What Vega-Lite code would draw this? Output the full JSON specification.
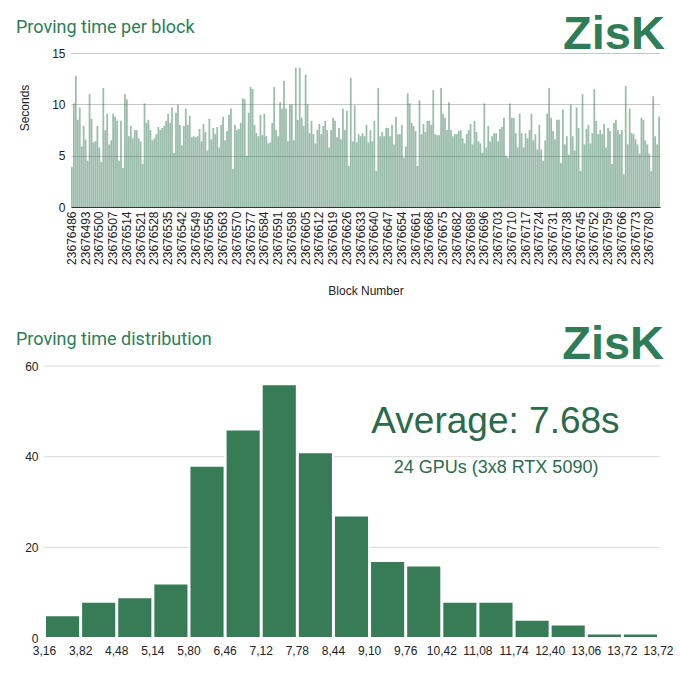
{
  "$schema": "https://vega.github.io/schema/vega-lite/v6.json",
  "padding": {"left": 16, "top": 8, "right": 5, "bottom": 5},
  "background": "#ffffff",
  "datasets": {
    "blocks": [
      {"block": 23676486, "seconds": 3.9}, {"block": 23676487, "seconds": 10.1}, {"block": 23676488, "seconds": 12.8}, {"block": 23676489, "seconds": 8.5},
      {"block": 23676490, "seconds": 9.7}, {"block": 23676491, "seconds": 5.9}, {"block": 23676492, "seconds": 7.9}, {"block": 23676493, "seconds": 6.6},
      {"block": 23676494, "seconds": 4.5}, {"block": 23676495, "seconds": 11.0}, {"block": 23676496, "seconds": 8.6}, {"block": 23676497, "seconds": 6.3},
      {"block": 23676498, "seconds": 6.4}, {"block": 23676499, "seconds": 7.9}, {"block": 23676500, "seconds": 5.8}, {"block": 23676501, "seconds": 4.4},
      {"block": 23676502, "seconds": 11.6}, {"block": 23676503, "seconds": 7.5}, {"block": 23676504, "seconds": 9.1}, {"block": 23676505, "seconds": 6.1},
      {"block": 23676506, "seconds": 6.5}, {"block": 23676507, "seconds": 9.1}, {"block": 23676508, "seconds": 8.8}, {"block": 23676509, "seconds": 8.4},
      {"block": 23676510, "seconds": 4.5}, {"block": 23676511, "seconds": 8.4}, {"block": 23676512, "seconds": 3.8}, {"block": 23676513, "seconds": 11.0},
      {"block": 23676514, "seconds": 10.5}, {"block": 23676515, "seconds": 6.9}, {"block": 23676516, "seconds": 7.9}, {"block": 23676517, "seconds": 6.7},
      {"block": 23676518, "seconds": 7.5}, {"block": 23676519, "seconds": 7.5}, {"block": 23676520, "seconds": 6.7}, {"block": 23676521, "seconds": 6.4},
      {"block": 23676522, "seconds": 4.2}, {"block": 23676523, "seconds": 10.1}, {"block": 23676524, "seconds": 8.2}, {"block": 23676525, "seconds": 8.5},
      {"block": 23676526, "seconds": 7.5}, {"block": 23676527, "seconds": 6.5}, {"block": 23676528, "seconds": 6.7}, {"block": 23676529, "seconds": 7.1},
      {"block": 23676530, "seconds": 7.8}, {"block": 23676531, "seconds": 7.5}, {"block": 23676532, "seconds": 7.7}, {"block": 23676533, "seconds": 7.9},
      {"block": 23676534, "seconds": 8.4}, {"block": 23676535, "seconds": 9.1}, {"block": 23676536, "seconds": 8.2}, {"block": 23676537, "seconds": 9.7},
      {"block": 23676538, "seconds": 5.3}, {"block": 23676539, "seconds": 9.2}, {"block": 23676540, "seconds": 10.0}, {"block": 23676541, "seconds": 8.0},
      {"block": 23676542, "seconds": 6.0}, {"block": 23676543, "seconds": 7.9}, {"block": 23676544, "seconds": 9.6}, {"block": 23676545, "seconds": 8.0},
      {"block": 23676546, "seconds": 8.9}, {"block": 23676547, "seconds": 6.8}, {"block": 23676548, "seconds": 6.9}, {"block": 23676549, "seconds": 6.8},
      {"block": 23676550, "seconds": 6.9}, {"block": 23676551, "seconds": 7.6}, {"block": 23676552, "seconds": 6.4}, {"block": 23676553, "seconds": 8.1},
      {"block": 23676554, "seconds": 7.3}, {"block": 23676555, "seconds": 5.5}, {"block": 23676556, "seconds": 8.6}, {"block": 23676557, "seconds": 6.6},
      {"block": 23676558, "seconds": 7.7}, {"block": 23676559, "seconds": 7.1}, {"block": 23676560, "seconds": 7.8}, {"block": 23676561, "seconds": 5.8},
      {"block": 23676562, "seconds": 8.0}, {"block": 23676563, "seconds": 8.8}, {"block": 23676564, "seconds": 6.5}, {"block": 23676565, "seconds": 7.4},
      {"block": 23676566, "seconds": 9.0}, {"block": 23676567, "seconds": 9.6}, {"block": 23676568, "seconds": 3.7}, {"block": 23676569, "seconds": 8.0},
      {"block": 23676570, "seconds": 7.5}, {"block": 23676571, "seconds": 7.6}, {"block": 23676572, "seconds": 8.2}, {"block": 23676573, "seconds": 10.6},
      {"block": 23676574, "seconds": 10.5}, {"block": 23676575, "seconds": 5.0}, {"block": 23676576, "seconds": 9.2}, {"block": 23676577, "seconds": 11.7},
      {"block": 23676578, "seconds": 11.5}, {"block": 23676579, "seconds": 8.0}, {"block": 23676580, "seconds": 7.2}, {"block": 23676581, "seconds": 6.9},
      {"block": 23676582, "seconds": 9.0}, {"block": 23676583, "seconds": 7.0}, {"block": 23676584, "seconds": 9.1}, {"block": 23676585, "seconds": 6.9},
      {"block": 23676586, "seconds": 6.2}, {"block": 23676587, "seconds": 6.3}, {"block": 23676588, "seconds": 8.2}, {"block": 23676589, "seconds": 11.7},
      {"block": 23676590, "seconds": 7.5}, {"block": 23676591, "seconds": 6.9}, {"block": 23676592, "seconds": 10.2}, {"block": 23676593, "seconds": 9.6},
      {"block": 23676594, "seconds": 12.3}, {"block": 23676595, "seconds": 9.6}, {"block": 23676596, "seconds": 6.4}, {"block": 23676597, "seconds": 10.0},
      {"block": 23676598, "seconds": 10.0}, {"block": 23676599, "seconds": 6.5}, {"block": 23676600, "seconds": 13.6}, {"block": 23676601, "seconds": 8.5},
      {"block": 23676602, "seconds": 13.6}, {"block": 23676603, "seconds": 8.7}, {"block": 23676604, "seconds": 7.9}, {"block": 23676605, "seconds": 12.9},
      {"block": 23676606, "seconds": 10.0}, {"block": 23676607, "seconds": 7.2}, {"block": 23676608, "seconds": 8.4}, {"block": 23676609, "seconds": 7.1},
      {"block": 23676610, "seconds": 6.2}, {"block": 23676611, "seconds": 7.5}, {"block": 23676612, "seconds": 8.1}, {"block": 23676613, "seconds": 7.1},
      {"block": 23676614, "seconds": 7.9}, {"block": 23676615, "seconds": 8.4}, {"block": 23676616, "seconds": 7.5}, {"block": 23676617, "seconds": 5.8},
      {"block": 23676618, "seconds": 7.5}, {"block": 23676619, "seconds": 8.7}, {"block": 23676620, "seconds": 8.4}, {"block": 23676621, "seconds": 6.8},
      {"block": 23676622, "seconds": 7.7}, {"block": 23676623, "seconds": 6.6}, {"block": 23676624, "seconds": 9.6}, {"block": 23676625, "seconds": 7.5},
      {"block": 23676626, "seconds": 9.4}, {"block": 23676627, "seconds": 4.0}, {"block": 23676628, "seconds": 12.6}, {"block": 23676629, "seconds": 6.4},
      {"block": 23676630, "seconds": 9.9}, {"block": 23676631, "seconds": 6.3}, {"block": 23676632, "seconds": 7.1}, {"block": 23676633, "seconds": 6.9},
      {"block": 23676634, "seconds": 7.2}, {"block": 23676635, "seconds": 6.9}, {"block": 23676636, "seconds": 8.0}, {"block": 23676637, "seconds": 6.3},
      {"block": 23676638, "seconds": 7.5}, {"block": 23676639, "seconds": 6.4}, {"block": 23676640, "seconds": 8.4}, {"block": 23676641, "seconds": 3.5},
      {"block": 23676642, "seconds": 11.6}, {"block": 23676643, "seconds": 6.9}, {"block": 23676644, "seconds": 7.3}, {"block": 23676645, "seconds": 6.9},
      {"block": 23676646, "seconds": 7.7}, {"block": 23676647, "seconds": 7.7}, {"block": 23676648, "seconds": 6.9}, {"block": 23676649, "seconds": 8.0},
      {"block": 23676650, "seconds": 6.1}, {"block": 23676651, "seconds": 8.8}, {"block": 23676652, "seconds": 7.1}, {"block": 23676653, "seconds": 7.1},
      {"block": 23676654, "seconds": 8.0}, {"block": 23676655, "seconds": 4.8}, {"block": 23676656, "seconds": 5.9}, {"block": 23676657, "seconds": 11.1},
      {"block": 23676658, "seconds": 10.1}, {"block": 23676659, "seconds": 8.2}, {"block": 23676660, "seconds": 7.9}, {"block": 23676661, "seconds": 7.4},
      {"block": 23676662, "seconds": 4.0}, {"block": 23676663, "seconds": 10.4}, {"block": 23676664, "seconds": 7.1}, {"block": 23676665, "seconds": 8.1},
      {"block": 23676666, "seconds": 7.3}, {"block": 23676667, "seconds": 8.4}, {"block": 23676668, "seconds": 8.4}, {"block": 23676669, "seconds": 8.0},
      {"block": 23676670, "seconds": 11.4}, {"block": 23676671, "seconds": 7.1}, {"block": 23676672, "seconds": 7.0}, {"block": 23676673, "seconds": 7.0},
      {"block": 23676674, "seconds": 11.6}, {"block": 23676675, "seconds": 9.1}, {"block": 23676676, "seconds": 8.7}, {"block": 23676677, "seconds": 7.5},
      {"block": 23676678, "seconds": 10.2}, {"block": 23676679, "seconds": 7.5}, {"block": 23676680, "seconds": 6.9}, {"block": 23676681, "seconds": 7.1},
      {"block": 23676682, "seconds": 7.1}, {"block": 23676683, "seconds": 7.4}, {"block": 23676684, "seconds": 7.5}, {"block": 23676685, "seconds": 6.7},
      {"block": 23676686, "seconds": 6.2}, {"block": 23676687, "seconds": 7.1}, {"block": 23676688, "seconds": 7.5}, {"block": 23676689, "seconds": 8.1},
      {"block": 23676690, "seconds": 6.1}, {"block": 23676691, "seconds": 8.4}, {"block": 23676692, "seconds": 7.3}, {"block": 23676693, "seconds": 6.4},
      {"block": 23676694, "seconds": 6.2}, {"block": 23676695, "seconds": 5.3}, {"block": 23676696, "seconds": 10.1}, {"block": 23676697, "seconds": 5.8},
      {"block": 23676698, "seconds": 7.9}, {"block": 23676699, "seconds": 6.4}, {"block": 23676700, "seconds": 6.9}, {"block": 23676701, "seconds": 7.2},
      {"block": 23676702, "seconds": 7.2}, {"block": 23676703, "seconds": 6.4}, {"block": 23676704, "seconds": 7.6}, {"block": 23676705, "seconds": 7.8},
      {"block": 23676706, "seconds": 8.7}, {"block": 23676707, "seconds": 5.0}, {"block": 23676708, "seconds": 4.8}, {"block": 23676709, "seconds": 10.1},
      {"block": 23676710, "seconds": 8.7}, {"block": 23676711, "seconds": 8.7}, {"block": 23676712, "seconds": 7.2}, {"block": 23676713, "seconds": 5.8},
      {"block": 23676714, "seconds": 9.1}, {"block": 23676715, "seconds": 7.2}, {"block": 23676716, "seconds": 5.8}, {"block": 23676717, "seconds": 7.2},
      {"block": 23676718, "seconds": 6.7}, {"block": 23676719, "seconds": 7.5}, {"block": 23676720, "seconds": 9.1}, {"block": 23676721, "seconds": 6.5},
      {"block": 23676722, "seconds": 7.1}, {"block": 23676723, "seconds": 5.6}, {"block": 23676724, "seconds": 8.0}, {"block": 23676725, "seconds": 5.6},
      {"block": 23676726, "seconds": 4.5}, {"block": 23676727, "seconds": 6.5}, {"block": 23676728, "seconds": 9.1}, {"block": 23676729, "seconds": 11.6},
      {"block": 23676730, "seconds": 8.7}, {"block": 23676731, "seconds": 7.4}, {"block": 23676732, "seconds": 6.6}, {"block": 23676733, "seconds": 8.5},
      {"block": 23676734, "seconds": 8.5}, {"block": 23676735, "seconds": 4.3}, {"block": 23676736, "seconds": 9.5}, {"block": 23676737, "seconds": 6.1},
      {"block": 23676738, "seconds": 6.9}, {"block": 23676739, "seconds": 5.1}, {"block": 23676740, "seconds": 10.0}, {"block": 23676741, "seconds": 6.9},
      {"block": 23676742, "seconds": 5.5}, {"block": 23676743, "seconds": 9.7}, {"block": 23676744, "seconds": 7.7}, {"block": 23676745, "seconds": 3.5},
      {"block": 23676746, "seconds": 11.0}, {"block": 23676747, "seconds": 6.1}, {"block": 23676748, "seconds": 7.6}, {"block": 23676749, "seconds": 8.0},
      {"block": 23676750, "seconds": 6.2}, {"block": 23676751, "seconds": 7.2}, {"block": 23676752, "seconds": 11.5}, {"block": 23676753, "seconds": 8.4},
      {"block": 23676754, "seconds": 7.1}, {"block": 23676755, "seconds": 7.5}, {"block": 23676756, "seconds": 7.1}, {"block": 23676757, "seconds": 8.1},
      {"block": 23676758, "seconds": 5.8}, {"block": 23676759, "seconds": 7.7}, {"block": 23676760, "seconds": 7.4}, {"block": 23676761, "seconds": 4.2},
      {"block": 23676762, "seconds": 8.2}, {"block": 23676763, "seconds": 8.5}, {"block": 23676764, "seconds": 7.5}, {"block": 23676765, "seconds": 7.1},
      {"block": 23676766, "seconds": 7.5}, {"block": 23676767, "seconds": 3.2}, {"block": 23676768, "seconds": 11.8}, {"block": 23676769, "seconds": 6.1},
      {"block": 23676770, "seconds": 9.6}, {"block": 23676771, "seconds": 7.2}, {"block": 23676772, "seconds": 7.1}, {"block": 23676773, "seconds": 6.6},
      {"block": 23676774, "seconds": 6.1}, {"block": 23676775, "seconds": 5.2}, {"block": 23676776, "seconds": 8.7}, {"block": 23676777, "seconds": 8.5},
      {"block": 23676778, "seconds": 6.5}, {"block": 23676779, "seconds": 6.1}, {"block": 23676780, "seconds": 5.2}, {"block": 23676781, "seconds": 3.5},
      {"block": 23676782, "seconds": 10.8}, {"block": 23676783, "seconds": 6.9}, {"block": 23676784, "seconds": 6.1}, {"block": 23676785, "seconds": 8.8}
    ],
    "hist": [
      {"bin_start": 3.16, "bin_end": 3.82, "count": 5},
      {"bin_start": 3.82, "bin_end": 4.48, "count": 8},
      {"bin_start": 4.48, "bin_end": 5.14, "count": 9},
      {"bin_start": 5.14, "bin_end": 5.80, "count": 12},
      {"bin_start": 5.80, "bin_end": 6.46, "count": 38},
      {"bin_start": 6.46, "bin_end": 7.12, "count": 46},
      {"bin_start": 7.12, "bin_end": 7.78, "count": 56},
      {"bin_start": 7.78, "bin_end": 8.44, "count": 41},
      {"bin_start": 8.44, "bin_end": 9.10, "count": 27},
      {"bin_start": 9.10, "bin_end": 9.76, "count": 17},
      {"bin_start": 9.76, "bin_end": 10.42, "count": 16},
      {"bin_start": 10.42, "bin_end": 11.08, "count": 8},
      {"bin_start": 11.08, "bin_end": 11.74, "count": 8},
      {"bin_start": 11.74, "bin_end": 12.40, "count": 4},
      {"bin_start": 12.40, "bin_end": 13.06, "count": 3},
      {"bin_start": 13.06, "bin_end": 13.72, "count": 1},
      {"bin_start": 13.72, "bin_end": 14.38, "count": 1}
    ],
    "histGrid": [{"count": 20}, {"count": 40}, {"count": 60}]
  },
  "vconcat": [
    {
      "width": 589,
      "height": 199,
      "title": {
        "text": "Proving time per block",
        "anchor": "start",
        "frame": "group",
        "dx": -55,
        "dy": 29,
        "offset": 0,
        "font": "Roboto",
        "fontSize": 18,
        "fontWeight": "normal",
        "color": "#2e7d57"
      },
      "layer": [
        {
          "data": {"name": "blocks"},
          "mark": {"type": "bar", "color": "#377b57", "opacity": 0.5},
          "encoding": {
            "x": {
              "field": "block",
              "type": "ordinal",
              "scale": {"paddingInner": 0.1, "paddingOuter": 0},
              "axis": {
                "title": "Block Number",
                "labelAngle": -90,
                "ticks": false,
                "labelPadding": 4,
                "labelExpr": "(datum.value - 23676486) % 7 == 0 ? datum.value : ''",
                "domainColor": "#333333",
                "titlePadding": 21
              }
            },
            "y": {
              "field": "seconds",
              "type": "quantitative",
              "scale": {"domain": [0, 19.4], "nice": false},
              "axis": {"title": "Seconds", "values": [0, 5, 10, 15], "titlePadding": 20}
            }
          }
        },
        {
          "data": {"values": [{}]},
          "mark": {"type": "text", "text": "ZisK", "font": "Liberation Sans", "fontSize": 47, "fontWeight": "bold", "color": "#2e7d57", "align": "center", "baseline": "middle"},
          "encoding": {
            "x": {"datum": 23676762, "type": "ordinal"},
            "y": {"datum": 16.75, "type": "quantitative"}
          }
        }
      ]
    },
    {
      "width": 587,
      "height": 320,
      "title": {
        "text": "Proving time distribution",
        "anchor": "start",
        "frame": "group",
        "dx": -55,
        "dy": 31,
        "offset": 0,
        "font": "Roboto",
        "fontSize": 18,
        "fontWeight": "normal",
        "color": "#2e7d57"
      },
      "layer": [
        {
          "data": {"name": "histGrid"},
          "mark": {"type": "rule", "color": "#d9d9d9", "strokeWidth": 1},
          "encoding": {
            "x": {"datum": 3.16, "type": "quantitative"},
            "x2": {"datum": 14.41},
            "y": {"field": "count", "type": "quantitative"}
          }
        },
        {
          "data": {"name": "hist"},
          "mark": {"type": "bar", "color": "#377b57", "stroke": "#ffffff", "strokeWidth": 2},
          "encoding": {
            "x": {
              "field": "bin_start",
              "type": "quantitative",
              "bin": "binned",
              "scale": {"domain": [3.16, 14.38], "nice": false, "zero": false, "range": [-27, 587]},
              "axis": {
                "title": null,
                "values": [3.16, 3.82, 4.48, 5.14, 5.8, 6.46, 7.12, 7.78, 8.44, 9.1, 9.76, 10.42, 11.08, 11.74, 12.4, 13.06, 13.72, 14.38],
                "tickCount": 40,
                "labelExpr": "datum.value > 14 ? '13,72' : floor(datum.value + 0.001) + ',' + format(round((datum.value - floor(datum.value + 0.001)) * 100), '02d')",
                "labelFlush": false,
                "labelPadding": 7,
                "ticks": false,
                "grid": false,
                "domainColor": "#333333"
              }
            },
            "x2": {"field": "bin_end"},
            "y": {
              "field": "count",
              "type": "quantitative",
              "scale": {"domain": [0, 70.6], "nice": false},
              "axis": {"title": null, "values": [0, 20, 40, 60], "grid": false, "offset": 27}
            }
          }
        },
        {
          "data": {"values": [{}]},
          "mark": {"type": "text", "text": "Average: 7.68s", "font": "Liberation Sans", "fontSize": 37, "color": "#2a6b4b", "align": "center", "baseline": "middle"},
          "encoding": {
            "x": {"datum": 11.41, "type": "quantitative"},
            "y": {"datum": 47.7, "type": "quantitative"}
          }
        },
        {
          "data": {"values": [{}]},
          "mark": {"type": "text", "text": "24 GPUs (3x8 RTX 5090)", "font": "Liberation Sans", "fontSize": 18, "color": "#2a6b4b", "align": "center", "baseline": "middle"},
          "encoding": {
            "x": {"datum": 11.42, "type": "quantitative"},
            "y": {"datum": 37.5, "type": "quantitative"}
          }
        },
        {
          "data": {"values": [{}]},
          "mark": {"type": "text", "text": "ZisK", "font": "Liberation Sans", "fontSize": 47, "fontWeight": "bold", "color": "#2e7d57", "align": "center", "baseline": "middle"},
          "encoding": {
            "x": {"datum": 13.56, "type": "quantitative"},
            "y": {"datum": 64.6, "type": "quantitative"}
          }
        }
      ]
    }
  ],
  "spacing": 21,
  "config": {
    "view": {"stroke": null},
    "axis": {
      "labelFont": "Liberation Sans",
      "labelFontSize": 12,
      "labelColor": "#222222",
      "titleFont": "Liberation Sans",
      "titleFontSize": 12,
      "titleFontWeight": "normal",
      "titleColor": "#222222",
      "gridColor": "#c6c6c6",
      "tickColor": "#c6c6c6"
    },
    "axisX": {"labelOverlap": false},
    "axisY": {"domain": false, "ticks": false, "labelPadding": 6}
  }
}
